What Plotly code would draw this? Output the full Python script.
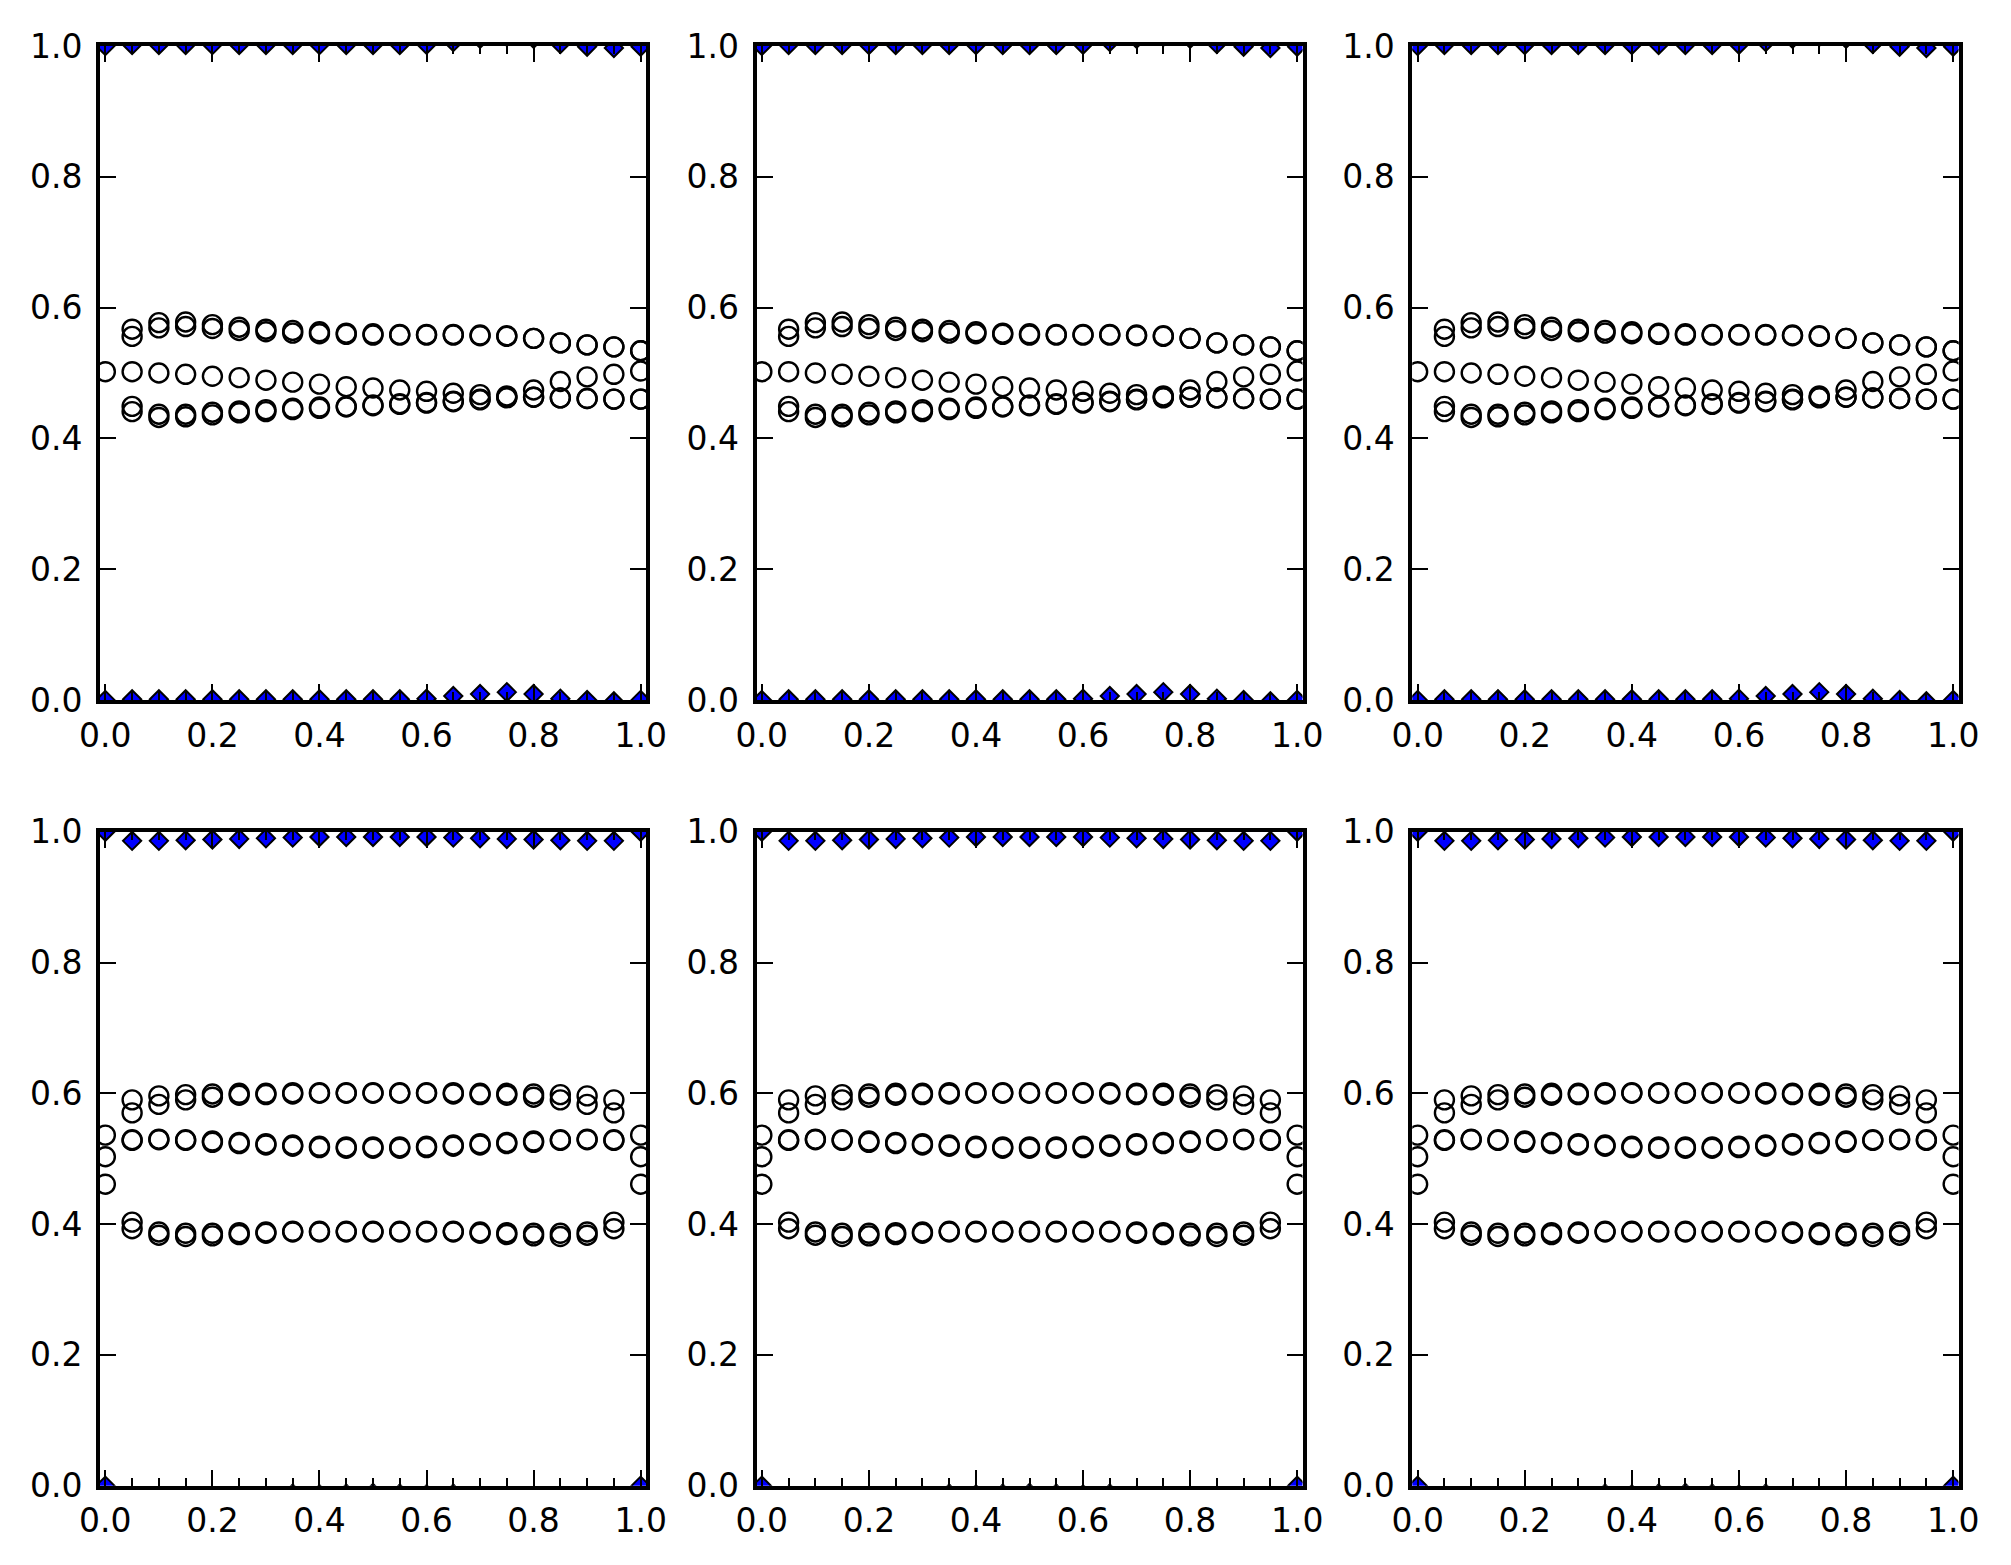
import plotly.graph_objects as go

# ---------------- data ----------------
X_VALUES = [0.0, 0.05, 0.1, 0.15, 0.2, 0.25, 0.3, 0.35, 0.4, 0.45, 0.5,
            0.55, 0.6, 0.65, 0.7, 0.75, 0.8, 0.85, 0.9, 0.95, 1.0]
X_TICKS = [0.0, 0.2, 0.4, 0.6, 0.8, 1.0]
Y_TICKS = [0.0, 0.2, 0.4, 0.6, 0.8, 1.0]

# Row 1 (top row): diamonds near 1 and near 0
r1_diamond_high = [1.0, 1.0015, 1.0015, 1.0015, 1.0015, 1.0015, 1.0015, 1.0015, 1.0015, 1.0015, 1.0015,
                   1.0015, 1.002, 1.006, 1.011, 1.014, 1.011, 1.003, 0.999, 0.997, 0.999]
r1_diamond_low = [0.0, 0.001, 0.001, 0.001, 0.001, 0.001, 0.001, 0.001, 0.001, 0.001, 0.001,
                  0.001, 0.002, 0.006, 0.009, 0.012, 0.009, 0.002, 0.0, -0.002, 0.0]
# Row 1 circles
r1_upper_a = [None, 0.567, 0.577, 0.578, 0.574, 0.570, 0.567, 0.565, 0.563, 0.561, 0.560,
              0.559, 0.559, 0.559, 0.558, 0.557, 0.553, 0.546, 0.543, 0.540, 0.534]
r1_upper_b = [None, 0.556, 0.569, 0.571, 0.568, 0.565, 0.563, 0.561, 0.560, 0.559, 0.558,
              0.558, 0.558, 0.558, 0.557, 0.556, 0.553, 0.546, 0.543, 0.540, 0.534]
r1_middle = [0.502, 0.502, 0.500, 0.498, 0.495, 0.493, 0.489, 0.486, 0.483, 0.479, 0.477,
             0.474, 0.472, 0.469, 0.467, 0.465, 0.474, 0.487, 0.494, 0.498, 0.503]
r1_lower_a = [None, 0.449, 0.437, 0.437, 0.440, 0.442, 0.444, 0.446, 0.448, 0.449, 0.451,
              0.453, 0.455, 0.457, 0.460, 0.463, 0.463, 0.462, 0.461, 0.460, 0.460]
r1_lower_b = [None, 0.441, 0.432, 0.433, 0.436, 0.439, 0.441, 0.444, 0.446, 0.448, 0.450,
              0.452, 0.454, 0.456, 0.459, 0.462, 0.463, 0.462, 0.461, 0.460, 0.460]

# Row 2 (bottom row)
r2_diamond_high = [1.0, 0.986, 0.986, 0.987, 0.988, 0.989, 0.990, 0.991, 0.992, 0.992, 0.992,
                   0.992, 0.992, 0.991, 0.990, 0.989, 0.988, 0.987, 0.986, 0.986, 1.0]
r2_diamond_low = [0.0, -0.016, -0.016, -0.016, -0.016, -0.016, -0.015, -0.012, -0.013, -0.012, -0.011,
                  -0.012, -0.013, -0.012, -0.015, -0.016, -0.016, -0.016, -0.016, -0.016, 0.0]
r2_upper_a = [0.536, 0.590, 0.596, 0.598, 0.599, 0.600, 0.600, 0.601, 0.601, 0.601, 0.601,
              0.601, 0.601, 0.601, 0.600, 0.600, 0.599, 0.598, 0.596, 0.590, 0.536]
r2_upper_b = [None, 0.570, 0.583, 0.590, 0.594, 0.597, 0.598, 0.599, 0.600, 0.600, 0.600,
              0.600, 0.600, 0.599, 0.598, 0.597, 0.594, 0.590, 0.583, 0.570, None]
r2_middle_a = [0.503, 0.529, 0.530, 0.529, 0.527, 0.525, 0.523, 0.521, 0.519, 0.518, 0.518,
               0.518, 0.519, 0.521, 0.523, 0.525, 0.527, 0.529, 0.530, 0.529, 0.503]
r2_middle_b = [None, 0.528, 0.529, 0.528, 0.525, 0.523, 0.521, 0.519, 0.517, 0.516, 0.516,
               0.516, 0.517, 0.519, 0.521, 0.523, 0.525, 0.528, 0.529, 0.528, None]
r2_lower_a = [0.461, 0.403, 0.388, 0.386, 0.386, 0.387, 0.388, 0.389, 0.389, 0.389, 0.389,
              0.389, 0.389, 0.389, 0.388, 0.387, 0.386, 0.386, 0.388, 0.403, 0.461]
r2_lower_b = [None, 0.393, 0.383, 0.381, 0.382, 0.384, 0.386, 0.388, 0.388, 0.388, 0.388,
              0.388, 0.388, 0.388, 0.386, 0.384, 0.382, 0.381, 0.383, 0.393, None]

ROWS = [
    {"diamonds": [r1_diamond_high, r1_diamond_low],
     "circles": [r1_upper_a, r1_upper_b, r1_middle, r1_lower_a, r1_lower_b]},
    {"diamonds": [r2_diamond_high, r2_diamond_low],
     "circles": [r2_upper_a, r2_upper_b, r2_middle_a, r2_middle_b, r2_lower_a, r2_lower_b]},
]

# ---------------- layout ----------------
PAGE_OFFSET = 8          # default body margin of the html page
W, H = 2011 - 2 * PAGE_OFFSET, 1565 - 2 * PAGE_OFFSET
COL_PX = [(100, 646), (756.5, 1302.5), (1412.3, 1958.5)]   # page pixels
ROW_PX = [(46, 700), (831.7, 1485.7)]

FONT = dict(family="DejaVu Sans", size=33, color="black")

fig = go.Figure()
layout = dict(
    width=W, height=H,
    margin=dict(l=0, r=0, t=0, b=0, autoexpand=False),
    paper_bgcolor="white", plot_bgcolor="white",
    showlegend=False, font=FONT,
)

idx = 0
for r, row in enumerate(ROWS):
    for c in range(3):
        idx += 1
        xa = "x" if idx == 1 else f"x{idx}"
        ya = "y" if idx == 1 else f"y{idx}"
        for ys in row["circles"]:
            fig.add_trace(go.Scatter(
                x=X_VALUES, y=ys, mode="markers", xaxis=xa, yaxis=ya,
                marker=dict(symbol="circle-open", size=19, color="black",
                            line=dict(width=2.4, color="black")),
                hoverinfo="skip"))
        for ys in row["diamonds"]:
            fig.add_trace(go.Scatter(
                x=X_VALUES, y=ys, mode="markers", xaxis=xa, yaxis=ya,
                marker=dict(symbol="diamond", size=14, color="#0000ff",
                            line=dict(width=2, color="black")),
                hoverinfo="skip"))
        x0, x1 = [v - PAGE_OFFSET for v in COL_PX[c]]
        y0, y1 = [v - PAGE_OFFSET for v in ROW_PX[r]]
        common = dict(
            showline=True, linecolor="black", linewidth=4, mirror="ticks",
            ticks="inside", ticklen=16, tickwidth=2, tickcolor="black",
            showgrid=False, zeroline=False, tickformat=".1f",
            tickfont=FONT, automargin=False,
        )
        layout["xaxis" if idx == 1 else f"xaxis{idx}"] = dict(
            domain=[x0 / W, x1 / W], range=[-0.01, 1.01], anchor=ya,
            tickvals=X_TICKS, ticklabelstandoff=3,
            minor=dict(dtick=0.05, tick0=0, ticks="inside", ticklen=8,
                       tickwidth=2, tickcolor="black", showgrid=False),
            **common)
        layout["yaxis" if idx == 1 else f"yaxis{idx}"] = dict(
            domain=[1 - y1 / H, 1 - y0 / H], range=[0, 1], anchor=xa,
            tickvals=Y_TICKS, ticklabelstandoff=7,
            **common)

fig.update_layout(**layout)
fig.write_html("out.html")
